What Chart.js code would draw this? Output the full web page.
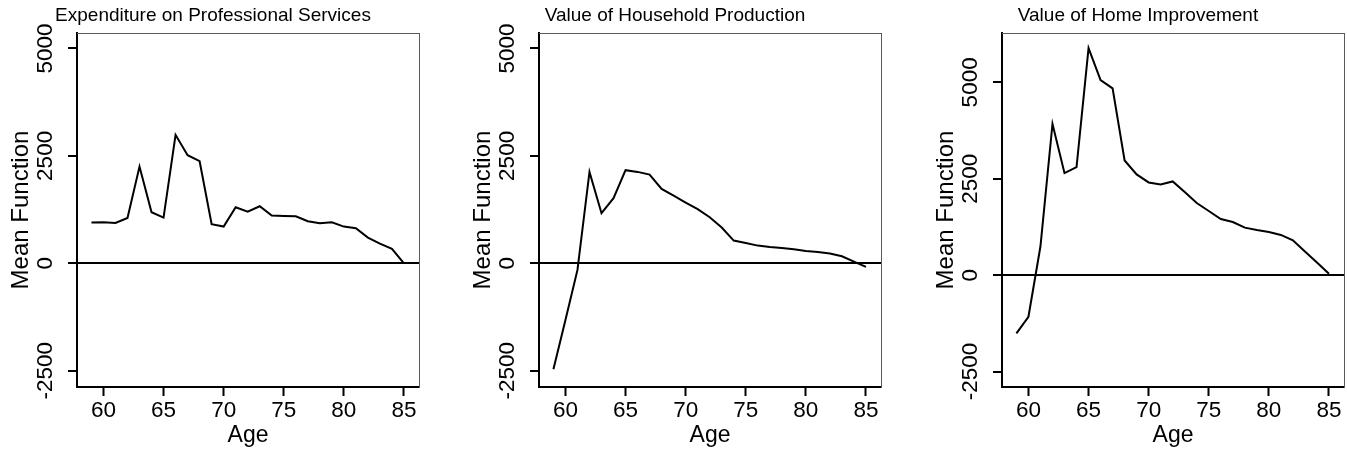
<!DOCTYPE html>
<html>
<head>
<meta charset="utf-8">
<script src="https://cdn.jsdelivr.net/npm/chart.js@4/dist/chart.umd.min.js"></script>
<style>
  html, body { margin: 0; padding: 0; background: #fff; }
  body { width: 1347px; height: 451px; overflow: hidden; position: relative; }
  canvas { position: absolute; top: 0; }
</style>
</head>
<body>
<canvas id="panelServices" width="426" height="451" style="left:0px"></canvas>
<canvas id="panelHousehold" width="426" height="451" style="left:462px"></canvas>
<canvas id="panelHome" width="426" height="451" style="left:925px"></canvas>
<script>
// Age of the respondent (x axis)
const ages = [59, 60, 61, 62, 63, 64, 65, 66, 67, 68, 69, 70, 71, 72, 73, 74, 75, 76, 77, 78, 79, 80, 81, 82, 83, 84, 85];

// Mean function by age for each outcome
const professionalServices = [947, 955, 939, 1056, 2252, 1188, 1064, 2989, 2516, 2376, 908, 854, 1304, 1203, 1328, 1110, 1102, 1095, 978, 932, 955, 854, 815, 598, 458, 334, 0];
const householdProduction = [-2469, -1320, -155, 2127, 1165, 1514, 2166, 2127, 2065, 1731, 1576, 1413, 1258, 1071, 831, 528, 474, 411, 380, 357, 326, 287, 264, 225, 163, 39, -85];
const homeImprovement = [-1509, -1078, 750, 3922, 2646, 2802, 5887, 5060, 4844, 2974, 2612, 2405, 2353, 2431, 2155, 1871, 1664, 1457, 1379, 1233, 1172, 1121, 1043, 905, 612, 329, 35];

// Tick labels
const ageTicks = [60, 65, 70, 75, 80, 85];
const valueTicks = [-2500, 0, 2500, 5000];

// Panel titles
const panelTitles = ['Expenditure on Professional Services', 'Value of Household Production', 'Value of Home Improvement'];

const FONT = "'Liberation Sans', Arial, Helvetica, sans-serif";
const X_MIN = 57.8, X_MAX = 86.25;

function drawPanel(canvasId, title, values, yMin, yMax) {
  const points = ages.map((a, i) => ({ x: a, y: values[i] }));
  return new Chart(document.getElementById(canvasId), {
    type: 'line',
    data: {
      datasets: [{
        data: points,
        borderColor: '#000',
        borderWidth: 2,
        pointRadius: 0,
        tension: 0,
        fill: false
      }]
    },
    options: {
      responsive: false,
      animation: false,
      events: [],
      layout: { padding: 0, autoPadding: false },
      plugins: {
        legend: { display: false },
        tooltip: { enabled: false },
        title: {
          display: true,
          text: title,
          color: '#000',
          align: 'center',
          font: { family: FONT, size: 19, weight: 'normal' },
          padding: { top: 4.7, bottom: 5.5 }
        }
      },
      scales: {
        x: {
          type: 'linear',
          position: 'bottom',
          min: X_MIN,
          max: X_MAX,
          afterBuildTicks: s => { s.ticks = ageTicks.map(v => ({ value: v })); },
          afterFit: s => { s.height = 64; },
          grid: { drawOnChartArea: false, drawTicks: true, tickLength: 9, tickColor: '#000', tickWidth: 2 },
          border: { display: true, color: '#000', width: 2 },
          ticks: {
            color: '#000', autoSkip: false, minRotation: 0, maxRotation: 0, padding: 1.5,
            font: { family: FONT, size: 22.5 },
            callback: v => String(v)
          },
          title: {
            display: true, text: 'Age', color: '#000',
            font: { family: FONT, size: 23 },
            padding: { top: 0, bottom: 1.2 }
          }
        },
        y: {
          type: 'linear',
          position: 'left',
          min: yMin,
          max: yMax,
          afterBuildTicks: s => { s.ticks = valueTicks.map(v => ({ value: v })); },
          afterFit: s => { s.width = 77; },
          grid: {
            drawOnChartArea: true,
            color: c => (c.tick && c.tick.value === 0) ? '#000' : 'rgba(0,0,0,0)',
            lineWidth: 2,
            tickLength: 9, tickColor: '#000', tickWidth: 2
          },
          border: { display: true, color: '#000', width: 2 },
          ticks: {
            color: '#000', autoSkip: false, minRotation: 90, maxRotation: 90,
            crossAlign: 'center', padding: -6.3,
            font: { family: FONT, size: 22.5 },
            callback: v => String(v)
          },
          title: {
            display: true, text: 'Mean Function', color: '#000',
            font: { family: FONT, size: 24 },
            padding: { top: 6.9, bottom: 0 }
          }
        },
        xTop: {
          type: 'linear', position: 'top', min: X_MIN, max: X_MAX,
          grid: { display: false }, ticks: { display: false },
          border: { display: true, color: '#5a5a5a', width: 1 },
          afterFit: s => { s.height = 0; }
        },
        yRight: {
          type: 'linear', position: 'right', min: yMin, max: yMax,
          grid: { display: false }, ticks: { display: false },
          border: { display: true, color: '#5a5a5a', width: 1 },
          afterFit: s => { s.width = 7; }
        }
      }
    }
  });
}

drawPanel('panelServices', panelTitles[0], professionalServices, -2880, 5360);
drawPanel('panelHousehold', panelTitles[1], householdProduction, -2880, 5360);
drawPanel('panelHome', panelTitles[2], homeImprovement, -2900, 6280);
</script>
</body>
</html>
